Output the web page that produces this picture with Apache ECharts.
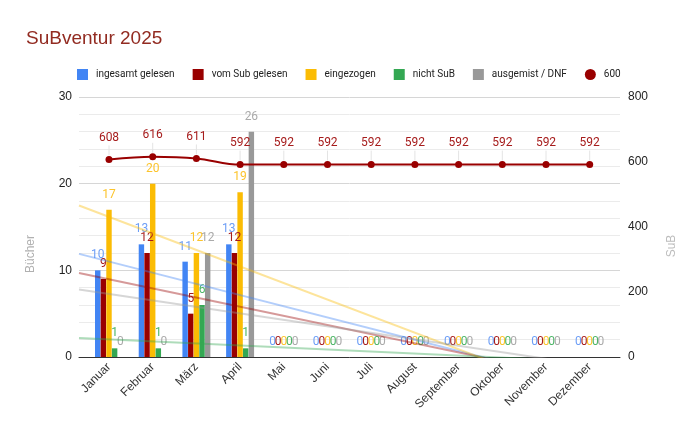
<!DOCTYPE html>
<html><head><meta charset="utf-8">
<script src="https://cdn.jsdelivr.net/npm/echarts@6/dist/echarts.min.js"></script>
<style>html,body{margin:0;padding:0;background:#fff}#c{width:700px;height:432px}</style>
</head><body><div id="c"></div>
<script>
const categories = ['Januar','Februar','März','April','Mai','Juni','Juli','August','September','Oktober','November','Dezember'];
const insgesamtGelesen = [10,13,11,13,0,0,0,0,0,0,0,0];
const vomSubGelesen   = [9,12,5,12,0,0,0,0,0,0,0,0];
const eingezogen      = [17,20,12,19,0,0,0,0,0,0,0,0];
const nichtSuB        = [1,1,6,1,0,0,0,0,0,0,0,0];
const ausgemist       = [0,0,12,26,0,0,0,0,0,0,0,0];
const subStand        = [608,616,611,592,592,592,592,592,592,592,592,592];
const barNames = ['ingesamt gelesen','vom Sub gelesen','eingezogen','nicht SuB','ausgemist / DNF'];
const lineName = '600';
const leftTicks = [0,30,10];
const rightTicks = [0,800,200];

const barData = [insgesamtGelesen, vomSubGelesen, eingezogen, nichtSuB, ausgemist];
const barColors = ['#4285f4','#990000','#fbbc04','#34a853','#999999'];
const labelColors = ['#6d9ef6','#a61c1c','#fcc42c','#4cb567','#aaaaaa'];

// layout
const L0 = 79, R0 = 620, T = 97, Bt = 357;
const catW = 43.7, firstC = 109;
const L1 = firstC - catW/2, R1 = L1 + catW*categories.length;
const xMin = (L0 - firstC)/catW, xMax = (R0 - firstC)/catW;

function trend(ys){
  const n = ys.length; let sx=0, sy=0, sxy=0, sxx=0;
  ys.forEach((y,i)=>{sx+=i; sy+=y; sxy+=i*y; sxx+=i*i;});
  const b = (n*sxy - sx*sy)/(n*sxx - sx*sx);
  const a = (sy - b*sx)/n;
  return [[xMin, a+b*xMin],[xMax, a+b*xMax]];
}

const series = [];
barData.forEach((d,k)=>{
  series.push({
    name: barNames[k], type:'bar', xAxisIndex:1, yAxisIndex:2, data:d,
    itemStyle:{color:barColors[k]}, barGap:'4%', barCategoryGap:'36%', z:2,
    label:{show:true, position:'top', distance:9, color:labelColors[k], fontFamily:'Roboto', fontSize:12}
  });
});
barData.forEach((d,k)=>{
  series.push({
    name:'trend'+k, type:'line', xAxisIndex:0, yAxisIndex:0, data:trend(d),
    symbol:'none', silent:true, clip:true, z:3,
    lineStyle:{color:barColors[k], opacity:0.4, width:2}
  });
});
// annotation stems
series.push({
  name:'stems', type:'custom', xAxisIndex:1, yAxisIndex:3, silent:true, z:3,
  data: subStand.map((v,i)=>[i,v]),
  renderItem:function(params, api){
    const p = api.coord([api.value(0), api.value(1)]);
    return {type:'line', shape:{x1:p[0], y1:p[1]-4, x2:p[0], y2:p[1]-14}, style:{stroke:'#e4e4e4', lineWidth:1}};
  }
});
series.push({
  name: lineName, type:'line', xAxisIndex:1, yAxisIndex:3, data:subStand,
  smooth:0.35, symbol:'circle', symbolSize:7, z:4,
  itemStyle:{color:'#990000'}, lineStyle:{color:'#990000', width:2},
  label:{show:true, position:'top', distance:12, color:'#a61c1c', fontFamily:'Roboto', fontSize:12}
});

const chart = echarts.init(document.getElementById('c'), null, {renderer:'canvas'});
chart.setOption({
  animation:false,
  title:{text:'SuBventur 2025', left:21, top:24, textStyle:{fontFamily:'Liberation Sans, Arial', fontSize:19, fontWeight:'normal', color:'#922b21'}},
  legend:{
    left:72, top:64, itemWidth:11, itemHeight:11, itemGap:18,
    textStyle:{fontFamily:'Roboto', fontSize:10, color:'#222', padding:[0,0,0,3]},
    data: barNames.map(n=>({name:n, icon:'rect'})).concat([{name:lineName, icon:'circle'}])
  },
  grid:[
    {left:L0, right:700-R0, top:T, bottom:432-Bt},
    {left:L1, right:700-R1, top:T, bottom:432-Bt}
  ],
  xAxis:[
    {type:'value', gridIndex:0, min:xMin, max:xMax, axisLabel:{show:false}, axisTick:{show:false}, splitLine:{show:false},
     axisLine:{show:true, onZero:false, lineStyle:{color:'#333', width:1}}},
    {type:'category', gridIndex:1, data:categories, axisLine:{show:false}, axisTick:{show:false},
     axisLabel:{rotate:45, interval:0, margin:8, fontFamily:'Liberation Sans, Arial', fontSize:12, color:'#333'}}
  ],
  yAxis:[
    {type:'value', gridIndex:0, min:leftTicks[0], max:leftTicks[1], interval:leftTicks[2], position:'left',
     axisLine:{show:false}, axisTick:{show:false},
     axisLabel:{margin:7, fontFamily:'Liberation Sans, Arial', fontSize:12, color:'#222'},
     splitLine:{lineStyle:{color:'#d6d6d6'}},
     minorTick:{show:false, splitNumber:5}, minorSplitLine:{show:true, lineStyle:{color:'#ebebeb'}}},
    {type:'value', gridIndex:0, min:rightTicks[0], max:rightTicks[1], interval:rightTicks[2], position:'right',
     axisLine:{show:false}, axisTick:{show:false}, splitLine:{show:false},
     axisLabel:{margin:8, fontFamily:'Liberation Sans, Arial', fontSize:12, color:'#222'}},
    {type:'value', gridIndex:1, min:leftTicks[0], max:leftTicks[1], show:false},
    {type:'value', gridIndex:1, min:rightTicks[0], max:rightTicks[1], show:false, position:'right'}
  ],
  graphic:[
    {type:'text', x:31, y:254, rotation:Math.PI/2, style:{text:'Bücher', fill:'#b0b0b0', font:'12px "Liberation Sans", Arial', align:'center', verticalAlign:'middle'}},
    {type:'text', x:672, y:246, rotation:Math.PI/2, style:{text:'SuB', fill:'#bdbdbd', font:'12px "Liberation Sans", Arial', align:'center', verticalAlign:'middle'}}
  ],
  series: series
});
</script></body></html>
